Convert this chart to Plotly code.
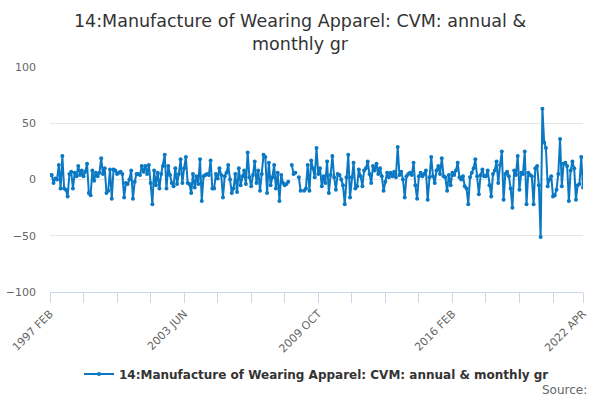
import plotly.graph_objects as go

MONTH_NAMES = ["JAN", "FEB", "MAR", "APR", "MAY", "JUN",
               "JUL", "AUG", "SEP", "OCT", "NOV", "DEC"]

# monthly categories, 1997 FEB .. 2022 APR
start = 1997 * 12 + 1
months = []
for i in range(303):
    t = start + i
    months.append(f"{t // 12} {MONTH_NAMES[t % 12]}")

growth = [
    4, 4, -3, 1, 0, 13, -8, 21, -8, -9,
    -15, 5, 7, -8, 6, 3, 12, 4, 8, 3,
    7, 14, -12, -14, 8, -1, 6, 3, 6, 19,
    5, 10, -12, -10, 9, -17, 9, 8, 5, 6,
    7, 5, -16, -3, -4, 0, 8, -17, -2, 5,
    5, 4, 12, 7, 12, 5, 13, -3, -22, 8,
    -5, 6, -8, 5, 12, 22, -8, 12, 4, -3,
    -6, 10, -4, 5, 18, -3, 10, 20, -3, -4,
    -12, 5, -7, 3, -4, 18, -19, 3, 4, 5,
    4, 17, -8, -8, 5, 1, 10, 4, -16, 3,
    6, 13, 0, -12, -8, 5, -11, 10, -5, 3,
    8, -4, 24, 2, -6, 4, 16, -3, 8, -10,
    5, 22, 20, -12, 15, -5, 2, 13, -8, 6,
    -19, 4, -3, -5, -4, -2, None, 13, 5, 6,
    None, 2, -10, None, -10, -8, 13, -10, 17, 10,
    2, 28, 5, 10, -6, 3, -3, 16, -12, 4,
    21, 2, -9, 5, 4, 0, -5, -22, 2, 22,
    -16, 2, 15, -8, -6, 9, 3, -6, 8, 10,
    16, 5, -3, 12, 8, 14, 5, 10, 3, -10,
    -2, 6, 2, 6, 3, 7, 2, 29, 4, 7,
    0, -16, 3, 5, 6, 4, 15, -5, -17, 3,
    6, 3, 5, 8, -18, 2, 20, 3, -3, 8,
    12, 5, 19, 3, 2, -10, 4, -5, 6, 4,
    8, 15, 2, 0, 3, -6, -8, -22, 2, 6,
    10, 18, 3, -13, 4, 9, 3, 3, 8, -5,
    -15, 5, 8, 16, -3, 13, 25, -18, 5, 7,
    3, -8, -25, 8, 4, 21, -9, 6, 5, 25,
    -22, 6, 4, 3, -22, 10, 12, -5, -51, 63,
    33, 28, -6, 0, 3, -15, -14, -9, 5, 36,
    -6, 14, 15, 12, -19, 8, 16, 10, -18, -5,
    -4, 20, -7,
]

series_name = "14:Manufacture of Wearing Apparel: CVM: annual & monthly gr"

# ticks every 19 months, labels every 4th tick, plus the last month
tick_idx = list(range(0, 286, 19)) + [302]
tick_vals = [months[i] for i in tick_idx]
tick_text = [months[i] if (i % 76 == 0 or i == 302) else "" for i in tick_idx]

BLUE = "#0a78c2"

fig = go.Figure()
fig.add_trace(go.Scatter(
    x=months,
    y=growth,
    mode="lines+markers",
    name="<b>" + series_name + "</b>",
    line=dict(color=BLUE, width=2),
    marker=dict(color=BLUE, size=4),
    connectgaps=False,
))

fig.update_layout(
    width=600,
    height=400,
    margin=dict(l=50, r=17, t=67, b=108, autoexpand=False),
    plot_bgcolor="white",
    paper_bgcolor="white",
    font=dict(family="DejaVu Sans, sans-serif", color="#333333"),
    title=dict(
        text="14:Manufacture of Wearing Apparel: CVM: annual &<br>monthly gr",
        x=0.5, xanchor="center",
        y=1 - 27 / 400, yref="container", yanchor="middle",
        font=dict(size=17.5, color="#333333"),
    ),
    showlegend=True,
    legend=dict(
        orientation="h",
        x=0.5, xanchor="center",
        y=-0.364, yanchor="middle",
        font=dict(size=12, color="#333333"),
    ),
    annotations=[dict(
        text="Source:",
        xref="paper", yref="paper",
        x=1.011, y=-0.436,
        xanchor="right", yanchor="middle",
        showarrow=False,
        font=dict(size=12, color="#666666"),
    )],
)

fig.update_xaxes(
    type="category",
    range=[0, 302],
    tickmode="array",
    tickvals=tick_vals,
    ticktext=tick_text,
    tickangle=-45,
    ticks="outside",
    ticklen=10,
    tickcolor="#ccd6eb",
    showline=True,
    linecolor="#ccd6eb",
    showgrid=False,
    tickfont=dict(size=11, color="#666666"),
)
fig.update_yaxes(
    range=[-100, 100],
    tickvals=[-100, -50, 0, 50, 100],
    gridcolor="#e6e6e6",
    zeroline=False,
    showline=False,
    ticklabelstandoff=13,
    tickfont=dict(size=11, color="#666666"),
)

fig.write_html(
    "out.html",
    config={"displayModeBar": False},
    post_script="document.body.style.margin = '0';",
)
